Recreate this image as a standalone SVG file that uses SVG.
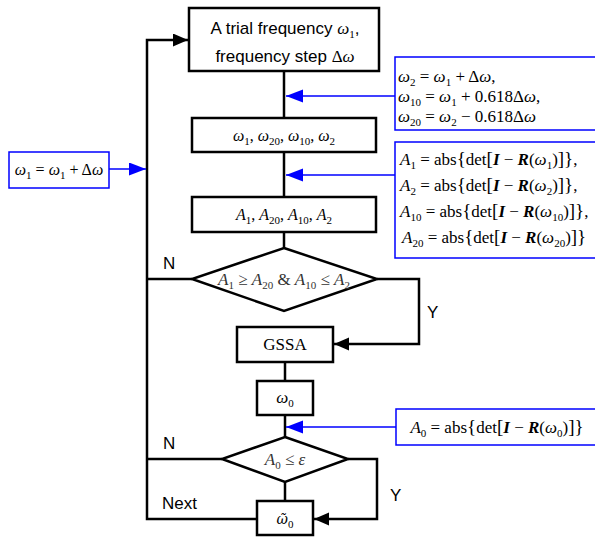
<svg xmlns="http://www.w3.org/2000/svg" width="595" height="539" viewBox="0 0 595 539">
<defs>
<marker id="ak" markerUnits="userSpaceOnUse" markerWidth="16" markerHeight="14" refX="15" refY="6.5" orient="auto"><path d="M0,0 L15,6.5 L0,13 z" fill="#000"/></marker>
<marker id="ab" markerUnits="userSpaceOnUse" markerWidth="18" markerHeight="14" refX="17" refY="6.5" orient="auto"><path d="M0,0 L17,6.5 L0,13 z" fill="#0000ff"/></marker>
</defs>
<style>
.box{fill:#fff;stroke:#000;stroke-width:2.5}
.bbox{fill:#fff;stroke:#0000ff;stroke-width:1.5}
.ln{fill:none;stroke:#000;stroke-width:2.5}
.bl{fill:none;stroke:#0000ff;stroke-width:1.6}
.sans{font-family:"Liberation Sans",Arial,sans-serif;font-size:17px;fill:#000}
.m{font-family:"Liberation Serif","Times New Roman",serif;font-size:16px;fill:#000}
.n{font-size:17px}
.i{font-style:italic}
.b{font-style:italic;font-weight:bold}
.s{font-size:11px;font-style:normal}
.br{font-size:19px}
.g{fill:#333}
</style>
<g id="connectors">
<path class="ln" d="M284,71 V118"/>
<path class="ln" d="M284,152 V197"/>
<path class="ln" d="M284,232 V248"/>
<path class="ln" d="M377,279 H419 V344 H334" marker-end="url(#ak)"/>
<path class="ln" d="M192,279 H147"/>
<path class="ln" d="M285,362 V381"/>
<path class="ln" d="M285,415 V437"/>
<path class="ln" d="M285,482 V501"/>
<path class="ln" d="M348,459 H377 V519 H314" marker-end="url(#ak)"/>
<path class="ln" d="M222,459 H147"/>
<path class="ln" d="M257,519 H147 V40 H188" marker-end="url(#ak)"/>
<path class="bl" d="M395,96 H286" marker-end="url(#ab)"/>
<path class="bl" d="M395,175 H286" marker-end="url(#ab)"/>
<path class="bl" d="M109,169 H146" marker-end="url(#ab)"/>
<path class="bl" d="M396,427 H286" marker-end="url(#ab)"/>
</g>
<g id="start">
<rect class="box" x="189" y="8" width="190" height="63"/>
<text class="sans" x="285" y="34" text-anchor="middle">A trial frequency <tspan class="m i n">ω</tspan><tspan class="m s" dy="4">1</tspan><tspan dy="-4">,</tspan></text>
<text class="sans" x="285" y="62" text-anchor="middle">frequency step <tspan class="m n">Δ</tspan><tspan class="m i n">ω</tspan></text>
</g>
<g id="omegas">
<rect class="box" x="192" y="118" width="184" height="34"/>
<text class="m" x="284" y="141" text-anchor="middle"><tspan class="i">ω</tspan><tspan class="s" dy="4">1</tspan><tspan dy="-4">, </tspan><tspan class="i">ω</tspan><tspan class="s" dy="4">20</tspan><tspan dy="-4">, </tspan><tspan class="i">ω</tspan><tspan class="s" dy="4">10</tspan><tspan dy="-4">, </tspan><tspan class="i">ω</tspan><tspan class="s" dy="4">2</tspan></text>
</g>
<g id="amps">
<rect class="box" x="192" y="197" width="184" height="35"/>
<text class="m" x="284" y="220" text-anchor="middle"><tspan class="i">A</tspan><tspan class="s" dy="4">1</tspan><tspan dy="-4">, </tspan><tspan class="i">A</tspan><tspan class="s" dy="4">20</tspan><tspan dy="-4">, </tspan><tspan class="i">A</tspan><tspan class="s" dy="4">10</tspan><tspan dy="-4">, </tspan><tspan class="i">A</tspan><tspan class="s" dy="4">2</tspan></text>
</g>
<g id="cond1">
<polygon class="box" points="284,248 377,279 284,311 192,279"/>
<text class="m g" x="284" y="285" text-anchor="middle" style="font-size:17px"><tspan class="i">A</tspan><tspan class="s" dy="4">1</tspan><tspan dy="-4"> ≥ </tspan><tspan class="i">A</tspan><tspan class="s" dy="4">20</tspan><tspan dy="-4"> &amp; </tspan><tspan class="i">A</tspan><tspan class="s" dy="4">10</tspan><tspan dy="-4"> ≤ </tspan><tspan class="i">A</tspan><tspan class="s" dy="4">2</tspan></text>
</g>
<g id="gssa">
<rect class="box" x="237" y="327" width="96" height="35"/>
<text class="m" x="285" y="350" text-anchor="middle" style="font-size:17px">GSSA</text>
</g>
<g id="omega0">
<rect class="box" x="257" y="381" width="56" height="34"/>
<text class="m" x="285" y="403" text-anchor="middle" style="font-size:17px"><tspan class="i">ω</tspan><tspan class="s" dy="4">0</tspan></text>
</g>
<g id="cond2">
<polygon class="box" points="285,437 348,459 285,482 222,459"/>
<text class="m g" x="285" y="465" text-anchor="middle" style="font-size:17px"><tspan class="i">A</tspan><tspan class="s" dy="4">0</tspan><tspan dy="-4"> ≤ </tspan><tspan class="i">ε</tspan></text>
</g>
<g id="result">
<rect class="box" x="257" y="501" width="56" height="34"/>
<text class="m" x="285" y="524" text-anchor="middle" style="font-size:17px"><tspan class="i" style="font-family:'DejaVu Serif',serif;font-size:14px">ῶ</tspan><tspan class="s" dy="4">0</tspan></text>
</g>
<g id="note-omegas">
<rect class="bbox" x="395" y="57" width="205" height="73"/>
<text class="m n" x="398" y="82"><tspan class="i">ω</tspan><tspan class="s" dy="4">2</tspan><tspan dy="-4"> = </tspan><tspan class="i">ω</tspan><tspan class="s" dy="4">1</tspan><tspan dy="-4"> + Δ</tspan><tspan class="i">ω</tspan><tspan>,</tspan></text>
<text class="m n" x="398" y="102"><tspan class="i">ω</tspan><tspan class="s" dy="4">10</tspan><tspan dy="-4"> = </tspan><tspan class="i">ω</tspan><tspan class="s" dy="4">1</tspan><tspan dy="-4"> + 0.618Δ</tspan><tspan class="i">ω</tspan><tspan>,</tspan></text>
<text class="m n" x="398" y="122"><tspan class="i">ω</tspan><tspan class="s" dy="4">20</tspan><tspan dy="-4"> = </tspan><tspan class="i">ω</tspan><tspan class="s" dy="4">2</tspan><tspan dy="-4"> − 0.618Δ</tspan><tspan class="i">ω</tspan></text>
</g>
<g id="note-amps">
<rect class="bbox" x="395" y="142" width="205" height="116"/>
<text class="m n" x="400" y="165"><tspan class="i">A</tspan><tspan class="s" dy="4">1</tspan><tspan dy="-4"> = abs</tspan><tspan class="br">{</tspan><tspan>det</tspan><tspan class="br">[</tspan><tspan class="b">I</tspan><tspan> − </tspan><tspan class="b">R</tspan><tspan>(</tspan><tspan class="i">ω</tspan><tspan class="s" dy="4">1</tspan><tspan dy="-4">)</tspan><tspan class="br">]}</tspan><tspan>,</tspan></text>
<text class="m n" x="400" y="191"><tspan class="i">A</tspan><tspan class="s" dy="4">2</tspan><tspan dy="-4"> = abs</tspan><tspan class="br">{</tspan><tspan>det</tspan><tspan class="br">[</tspan><tspan class="b">I</tspan><tspan> − </tspan><tspan class="b">R</tspan><tspan>(</tspan><tspan class="i">ω</tspan><tspan class="s" dy="4">2</tspan><tspan dy="-4">)</tspan><tspan class="br">]}</tspan><tspan>,</tspan></text>
<text class="m n" x="400" y="217"><tspan class="i">A</tspan><tspan class="s" dy="4">10</tspan><tspan dy="-4"> = abs</tspan><tspan class="br">{</tspan><tspan>det</tspan><tspan class="br">[</tspan><tspan class="b">I</tspan><tspan> − </tspan><tspan class="b">R</tspan><tspan>(</tspan><tspan class="i">ω</tspan><tspan class="s" dy="4">10</tspan><tspan dy="-4">)</tspan><tspan class="br">]}</tspan><tspan>,</tspan></text>
<text class="m n" x="402" y="243"><tspan class="i">A</tspan><tspan class="s" dy="4">20</tspan><tspan dy="-4"> = abs</tspan><tspan class="br">{</tspan><tspan>det</tspan><tspan class="br">[</tspan><tspan class="b">I</tspan><tspan> − </tspan><tspan class="b">R</tspan><tspan>(</tspan><tspan class="i">ω</tspan><tspan class="s" dy="4">20</tspan><tspan dy="-4">)</tspan><tspan class="br">]}</tspan></text>
</g>
<g id="note-update">
<rect class="bbox" x="9" y="152" width="100" height="36"/>
<text class="m" x="59" y="175" text-anchor="middle"><tspan class="i">ω</tspan><tspan class="s" dy="4">1</tspan><tspan dy="-4"> = </tspan><tspan class="i">ω</tspan><tspan class="s" dy="4">1</tspan><tspan dy="-4"> + Δ</tspan><tspan class="i">ω</tspan></text>
</g>
<g id="note-a0">
<rect class="bbox" x="396" y="409" width="204" height="36"/>
<text class="m n" x="497" y="433" text-anchor="middle"><tspan class="i">A</tspan><tspan class="s" dy="4">0</tspan><tspan dy="-4"> = abs</tspan><tspan class="br">{</tspan><tspan>det</tspan><tspan class="br">[</tspan><tspan class="b">I</tspan><tspan> − </tspan><tspan class="b">R</tspan><tspan>(</tspan><tspan class="i">ω</tspan><tspan class="s" dy="4">0</tspan><tspan dy="-4">)</tspan><tspan class="br">]}</tspan></text>
</g>
<g id="labels">
<text class="sans" x="163" y="269">N</text>
<text class="sans" x="427" y="318">Y</text>
<text class="sans" x="163" y="449">N</text>
<text class="sans" x="390" y="501">Y</text>
<text class="sans" x="162" y="509">Next</text>
</g>
</svg>
